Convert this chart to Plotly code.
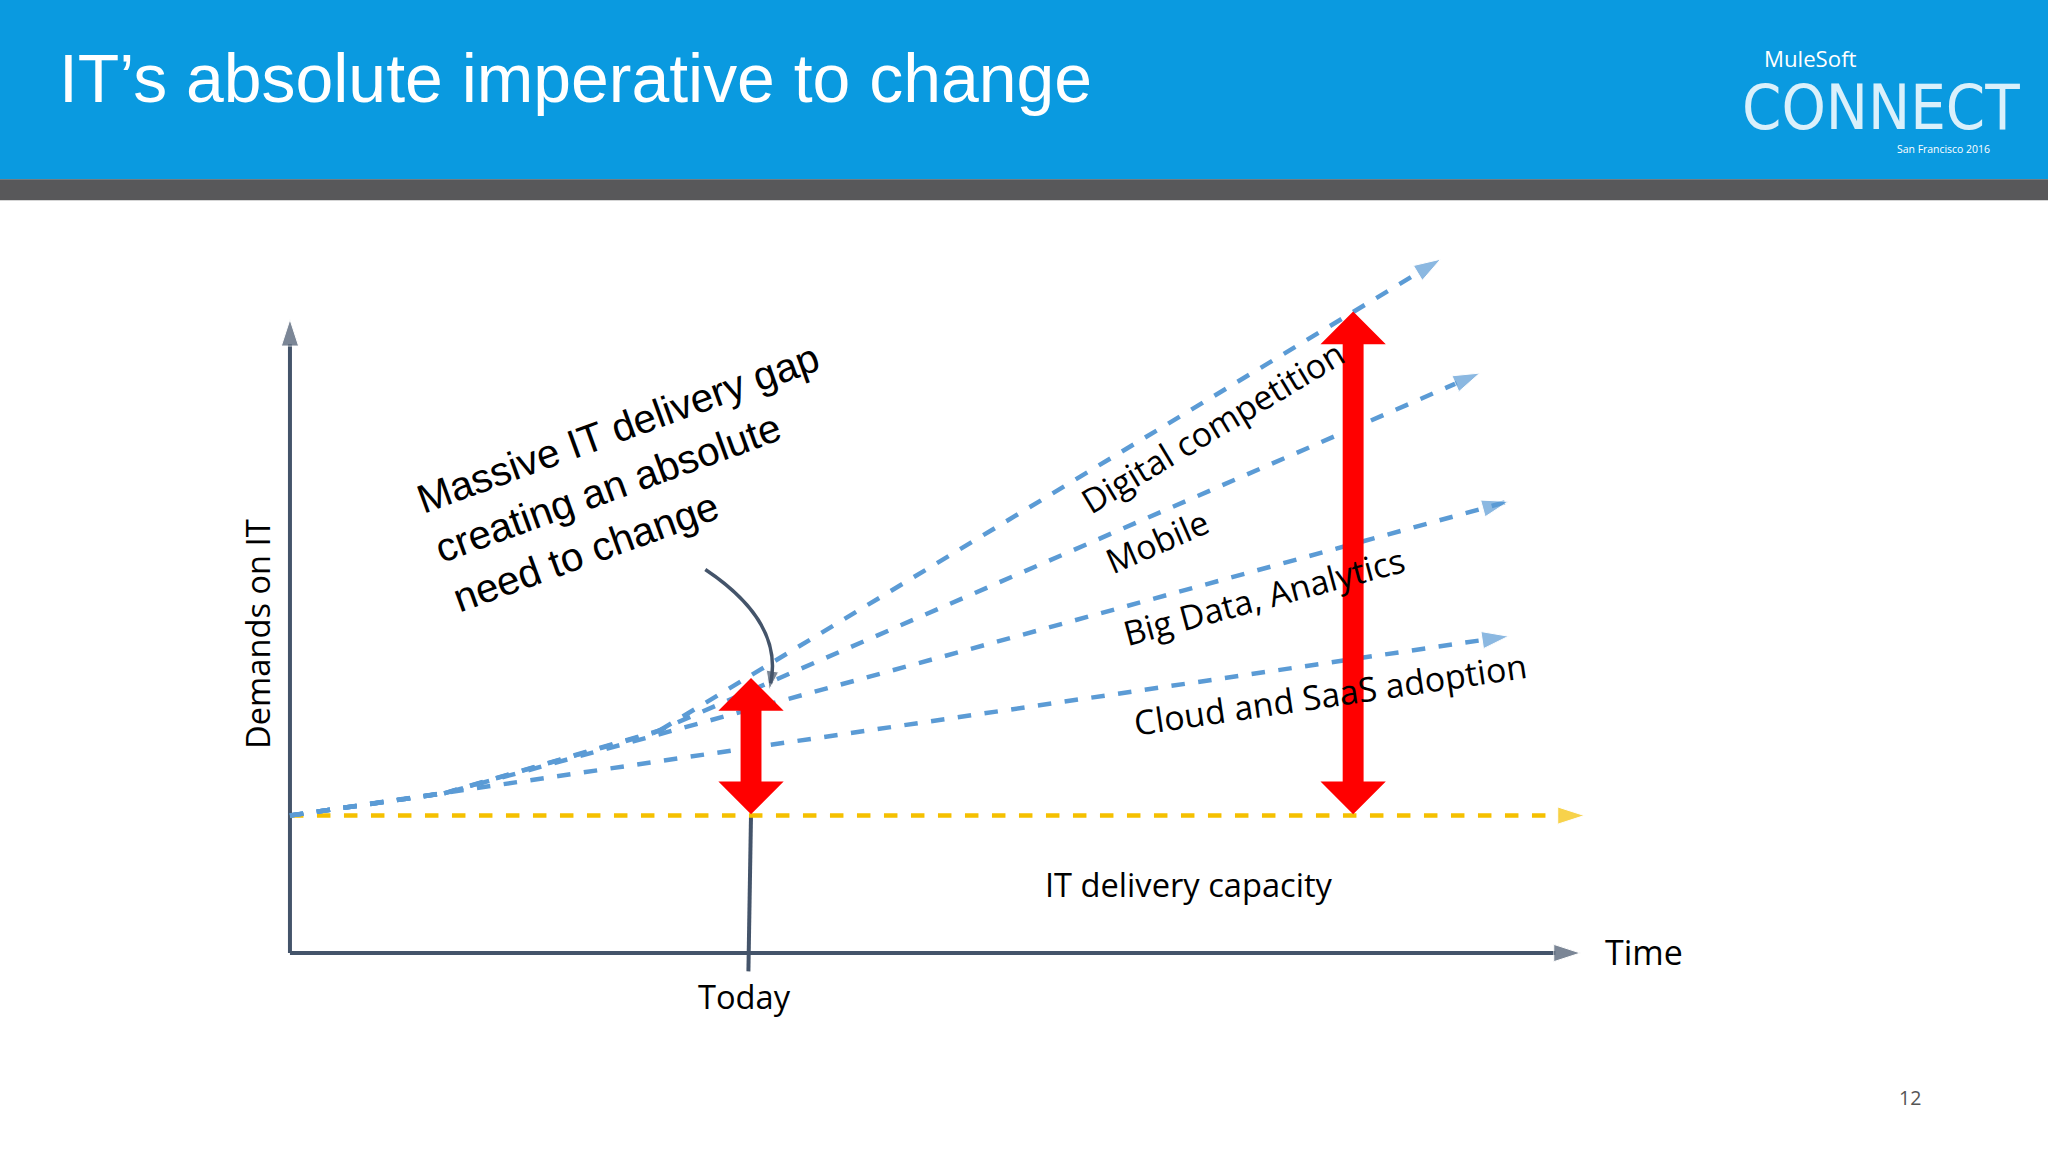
import plotly.graph_objects as go

# diagram is laid out in a 1568 x 880 unit space (y grows downward)
S = 2048 / 1568

# demand trend lines (x, y) - each starts near the origin and fans out
trend_names = ["Digital competition", "Mobile", "Big Data, Analytics", "Cloud and SaaS adoption"]
trend_x = [[222, 340, 505, 1103], [222, 340, 500, 1133], [222, 340, 1155], [222, 1155]]
trend_y = [[623, 606, 558, 198], [623, 606, 560, 285], [623, 606, 383], [623, 486]]
label_x = [928, 886, 968, 1018]
label_y = [326, 413, 455, 530]
label_angle = [-31, -23.5, -15, -8.4]

capacity_x = [222, 1213]
capacity_y = [623, 623]

gap_x = [575, 1036]
gap_top = [518, 238]
gap_bottom = [622, 622]

fig = go.Figure()

# header bands
fig.add_shape(type="rect", x0=0, x1=1568, y0=0, y1=137, fillcolor="#0a9ae0", line_width=0, layer="below")
fig.add_shape(type="rect", x0=0, x1=1568, y0=137, y1=153, fillcolor="#58585a", line_width=0, layer="below")

axis_col = "#44546a"
head = 28
# axes
fig.add_trace(go.Scatter(x=[222, 222], y=[728, 244], mode="lines+markers", line=dict(color=axis_col, width=4),
                         marker=dict(symbol="arrow", angleref="previous", size=[0, head], color=axis_col)))
fig.add_trace(go.Scatter(x=[222, 1210], y=[728, 728], mode="lines+markers", line=dict(color=axis_col, width=4),
                         marker=dict(symbol="arrow", angleref="previous", size=[0, head], color=axis_col)))
# today line
fig.add_trace(go.Scatter(x=[575, 573], y=[622, 742], mode="lines", line=dict(color=axis_col, width=4)))

# capacity
fig.add_trace(go.Scatter(x=capacity_x, y=capacity_y, mode="lines+markers",
                         line=dict(color="#f5c000", width=4.5, dash="dash"),
                         marker=dict(symbol="arrow", angleref="previous", size=[0, head], color="#f5c000")))

# trends
for tx, ty in zip(trend_x, trend_y):
    fig.add_trace(go.Scatter(x=tx, y=ty, mode="lines+markers",
                             line=dict(color="#5b9bd5", width=4.5, dash="dash"),
                             marker=dict(symbol="arrow", angleref="previous",
                                         size=[0] * (len(tx) - 1) + [head], color="#5b9bd5")))

# red double arrows
for gx, gt, gb in zip(gap_x, gap_top, gap_bottom):
    fig.add_shape(type="path",
                  path=f"M {gx-25},{gt+25} L {gx},{gt} L {gx+25},{gt+25} L {gx+8},{gt+25} L {gx+8},{gb-25} "
                       f"L {gx+25},{gb-25} L {gx},{gb} L {gx-25},{gb-25} L {gx-8},{gb-25} L {gx-8},{gt+25} Z",
                  fillcolor="#ff0000", line_width=0, layer="above")

# curved pointer
fig.add_shape(type="path", path="M 540,435 Q 600,475 590,522", line=dict(color=axis_col, width=3.5))
fig.add_trace(go.Scatter(x=[591, 589], y=[515, 527], mode="markers",
                         marker=dict(symbol="arrow", angleref="previous", size=[0, 20], color=axis_col)))

font = "Open Sans"
for name, lx, ly, la in zip(trend_names, label_x, label_y, label_angle):
    fig.add_annotation(x=lx, y=ly, text=name, textangle=la, showarrow=False,
                       font=dict(family=font, size=26 * S, color="black"))

fig.add_annotation(x=487, y=365, text="Massive IT delivery gap<br>creating an absolute<br>need to change",
                   textangle=-20, showarrow=False, align="left",
                   font=dict(family="Liberation Sans", size=31 * S, color="black"))
fig.add_annotation(x=910, y=676, text="IT delivery capacity", showarrow=False,
                   font=dict(family=font, size=25 * S, color="black"))
fig.add_annotation(x=570, y=761, text="Today", showarrow=False, font=dict(family=font, size=25 * S, color="black"))
fig.add_annotation(x=1227, y=727, text="Time", showarrow=False, xanchor="left",
                   font=dict(family=font, size=26 * S, color="black"))
fig.add_annotation(x=197, y=484, text="Demands on IT", textangle=-90, showarrow=False,
                   font=dict(family=font, size=25 * S, color="black"))
fig.add_annotation(x=1462, y=838, text="12", showarrow=False, font=dict(family=font, size=15 * S, color="#555555"))

# header text
fig.add_annotation(x=44, y=60, text="IT’s absolute imperative to change", xanchor="left", showarrow=False,
                   font=dict(family="Liberation Sans", size=52 * S, color="white"))
fig.add_annotation(x=1349, y=45, text="MuleSoft", xanchor="left", showarrow=False,
                   font=dict(family="Open Sans", size=17 * S, color="white"))
fig.add_annotation(x=1440, y=82, text="CONNECT", showarrow=False,
                   font=dict(family="DejaVu Sans Condensed", size=48 * S, color="rgba(255,255,255,0.85)"))
fig.add_annotation(x=1525, y=114, text="San Francisco 2016", xanchor="right", showarrow=False,
                   font=dict(family="Open Sans", size=8 * S, color="white"))

fig.update_xaxes(range=[0, 1568], visible=False)
fig.update_yaxes(range=[880, 0], visible=False)
fig.update_layout(width=2048, height=1152, margin=dict(l=0, r=0, t=0, b=0), showlegend=False,
                  plot_bgcolor="white", paper_bgcolor="white")

fig.write_html("out.html", config={"displayModeBar": False},
               post_script="document.body.style.margin='0';")
